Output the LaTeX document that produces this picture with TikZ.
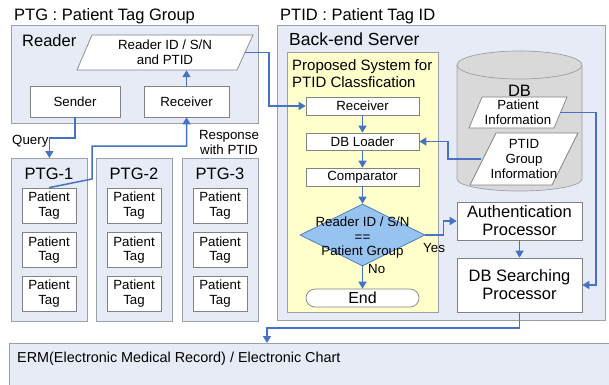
\documentclass[tikz,border=0pt]{standalone}
\usepackage{fontspec}
\setmainfont{Liberation Sans}
\usetikzlibrary{arrows.meta,shapes.geometric}
\definecolor{grpfill}{RGB}{230,235,246}
\definecolor{boxgray}{RGB}{155,160,168}
\definecolor{linegray}{RGB}{130,130,130}
\definecolor{arrblue}{RGB}{68,114,196}
\definecolor{yfill}{RGB}{255,255,204}
\definecolor{diafill}{RGB}{150,195,240}
\definecolor{dbfill}{RGB}{217,217,217}
\begin{document}
\begin{tikzpicture}[x=1pt,y=-1pt,
  titletext/.style={font=\fontsize{16.5}{19}\selectfont, inner sep=0pt},
  bigtext/.style={font=\fontsize{16.5}{18}\selectfont},
  proptext/.style={font=\fontsize{15}{16.5}\selectfont, inner sep=0pt},
  smalltext/.style={font=\fontsize{13.3}{15}\selectfont},
  grpbox/.style={draw=boxgray, fill=grpfill, line width=0.8pt, inner sep=0pt},
  ybox/.style={draw=boxgray, fill=yfill, line width=0.8pt, inner sep=0pt},
  wbox/.style={draw=linegray, fill=white, line width=0.7pt, inner sep=0pt, smalltext},
  tagbox/.style={wbox, minimum width=54pt, minimum height=35pt, align=center, font=\fontsize{13.3}{14.8}\selectfont},
  parabox/.style={draw=linegray, fill=white, line width=0.7pt},
  paratext/.style={inner sep=0pt, align=center},
  arr/.style={draw=arrblue, line width=1.5pt, -{Triangle[length=7pt,width=8pt]}},
]
\useasboundingbox (0,0) rectangle (609,384);

% ---------- left: PTG ----------
\node[titletext, anchor=base west] (ptgtitle) at (14,20.5) {PTG : Patient Tag Group};
\node[grpbox, anchor=north west, minimum width=247pt, minimum height=98pt] (readerbox) at (11,25) {};
\node[titletext, anchor=base west] (readerlbl) at (22,46) {Reader};
\draw[parabox] (77,70) -- (92,35) -- (253,35) -- (237,70) -- cycle;
\node[paratext, smalltext, minimum width=160pt, minimum height=35pt] (rid) at (165,52.5) {Reader ID / S/N\\and PTID};
\node[wbox, minimum width=90pt, minimum height=31pt] (sender) at (75,101.5) {Sender};
\node[wbox, minimum width=85pt, minimum height=31pt] (recv) at (186.5,101.5) {Receiver};

\foreach \n/\x/\cx in {1/11/49, 2/96/134, 3/182/220} {
  \node[grpbox, anchor=north west, minimum width=76pt, minimum height=163pt] (ptg\n) at (\x,158) {};
  \node[titletext, anchor=base] (ptg\n lbl) at (\cx,179) {PTG-\n};
  \node[tagbox] (t\n1) at (\cx,205.5) {Patient\\Tag};
  \node[tagbox] (t\n2) at (\cx,250) {Patient\\Tag};
  \node[tagbox] (t\n3) at (\cx,293.5) {Patient\\Tag};
}
\node[smalltext, anchor=base west, inner sep=0pt] (qlbl) at (12,144) {Query};
\node[smalltext, align=center, inner sep=0pt] (resp) at (229,142) {Response\\with PTID};

% ---------- right: PTID ----------
\node[titletext, anchor=base west] (ptidtitle) at (280,20.5) {PTID : Patient Tag ID};
\node[grpbox, anchor=north west, minimum width=328pt, minimum height=295pt] (backend) at (277,25) {};
\node[font=\fontsize{17.5}{20}\selectfont, inner sep=0pt, anchor=base west] (belbl) at (289,45) {Back-end Server};
\node[ybox, anchor=north west, minimum width=151pt, minimum height=260pt] (propbox) at (287,52) {};
\node[proptext, anchor=base west] (prop1) at (292,70.5) {Proposed System for};
\node[proptext, anchor=base west] (prop2) at (292,87) {PTID Classfication};

\node[wbox, minimum width=113pt, minimum height=18pt] (recv2) at (362.5,106) {Receiver};
\node[wbox, minimum width=113pt, minimum height=17pt] (dbl) at (362.5,141.5) {DB Loader};
\node[wbox, minimum width=113pt, minimum height=18pt] (cmp) at (362.5,177) {Comparator};
\node[diamond, draw=arrblue, fill=diafill, line width=0.7pt, inner sep=0pt, minimum width=125pt, minimum height=62pt] (dia) at (362.5,235) {};
\node[smalltext, align=center, inner sep=0pt, font=\fontsize{13.3}{14.5}\selectfont] (diatext) at (362.5,238) {Reader ID / S/N\\==\\Patient Group};
\node[wbox, rounded corners=9pt, minimum width=113pt, minimum height=18pt, font=\fontsize{16}{18}\selectfont] (endn) at (362.5,298) {End};
\node[smalltext, anchor=base west, inner sep=0pt] (nolbl) at (368,273) {No};
\node[smalltext, anchor=base west, inner sep=0pt] (yeslbl) at (423,252) {Yes};

\node[wbox, bigtext, align=center, minimum width=125pt, minimum height=38pt] (auth) at (519.5,221) {Authentication\\Processor};
\node[wbox, bigtext, align=center, minimum width=125pt, minimum height=54pt] (dbs) at (519.5,285) {DB Searching\\Processor};

% DB cylinder
\draw[draw=boxgray, fill=dbfill, line width=0.7pt] (457,65) -- (457,179)
  arc[start angle=180, end angle=360, x radius=62.5pt, y radius=12pt] -- (582,65)
  arc[start angle=0, end angle=180, x radius=62.5pt, y radius=14pt] -- cycle;
\draw[draw=boxgray, line width=0.7pt] (457,65) arc[start angle=180, end angle=360, x radius=62.5pt, y radius=14pt];
\node[bigtext, anchor=base, inner sep=0pt] (dblbl) at (519.5,96) {DB};
\draw[parabox] (469,128) -- (482,97) -- (567,97) -- (554,128) -- cycle;
\node[paratext, smalltext, minimum width=84pt, minimum height=31pt] (pinfo) at (518,112.5) {Patient\\Information};
\draw[parabox] (470,185) -- (496,133) -- (578,133) -- (552,185) -- cycle;
\node[paratext, minimum width=85pt, minimum height=52pt, font=\fontsize{13.3}{14.7}\selectfont] (pgi) at (524,159) {PTID\\Group\\Information};

% ERM
\node[grpbox, anchor=north west, minimum width=610pt, minimum height=50pt] (erm) at (9,343) {};
\node[font=\fontsize{14.4}{16}\selectfont, anchor=base west, inner sep=0pt] (ermlbl) at (17,362) {ERM(Electronic Medical Record) / Electronic Chart};

% ---------- connectors ----------
\coordinate (qy) at (0,138);
\draw[arr] (sender.south) -- (sender.south |- qy) -| (ptg1.north);
\coordinate (r1) at (92,179);
\coordinate (r2) at (92,146);
\draw[arr] (t11.north) -- (r1) -- (r2) -| (recv.south);
\draw[arr] (recv.north) -- (recv.north |- rid.south);
\coordinate (j1) at (269,0);
\draw[arr] (rid.east) -- (rid.east -| j1) |- (recv2.west);
\draw[arr] (recv2.south) -- (dbl.north);
\draw[arr] (dbl.south) -- (cmp.north);
\draw[arr] (cmp.south) -- (dia.north);
\draw[arr] (dia.south) -- (endn.north);
\draw[arr] (dia.east) -- ++(18,0) |- (auth.west);
\draw[arr] (auth.south) -- (dbs.north);
\coordinate (j2) at (448,0);
\draw[arr] (pgi.west) -- (pgi.west -| j2) |- (dbl.east);
\coordinate (j3) at (596,0);
\draw[arr] (pinfo.east) -- (pinfo.east -| j3) |- (dbs.east);
\coordinate (e1) at (267,328);
\draw[arr] (dbs.south) |- (e1) -- (erm.north -| e1);
\end{tikzpicture}
\end{document}
